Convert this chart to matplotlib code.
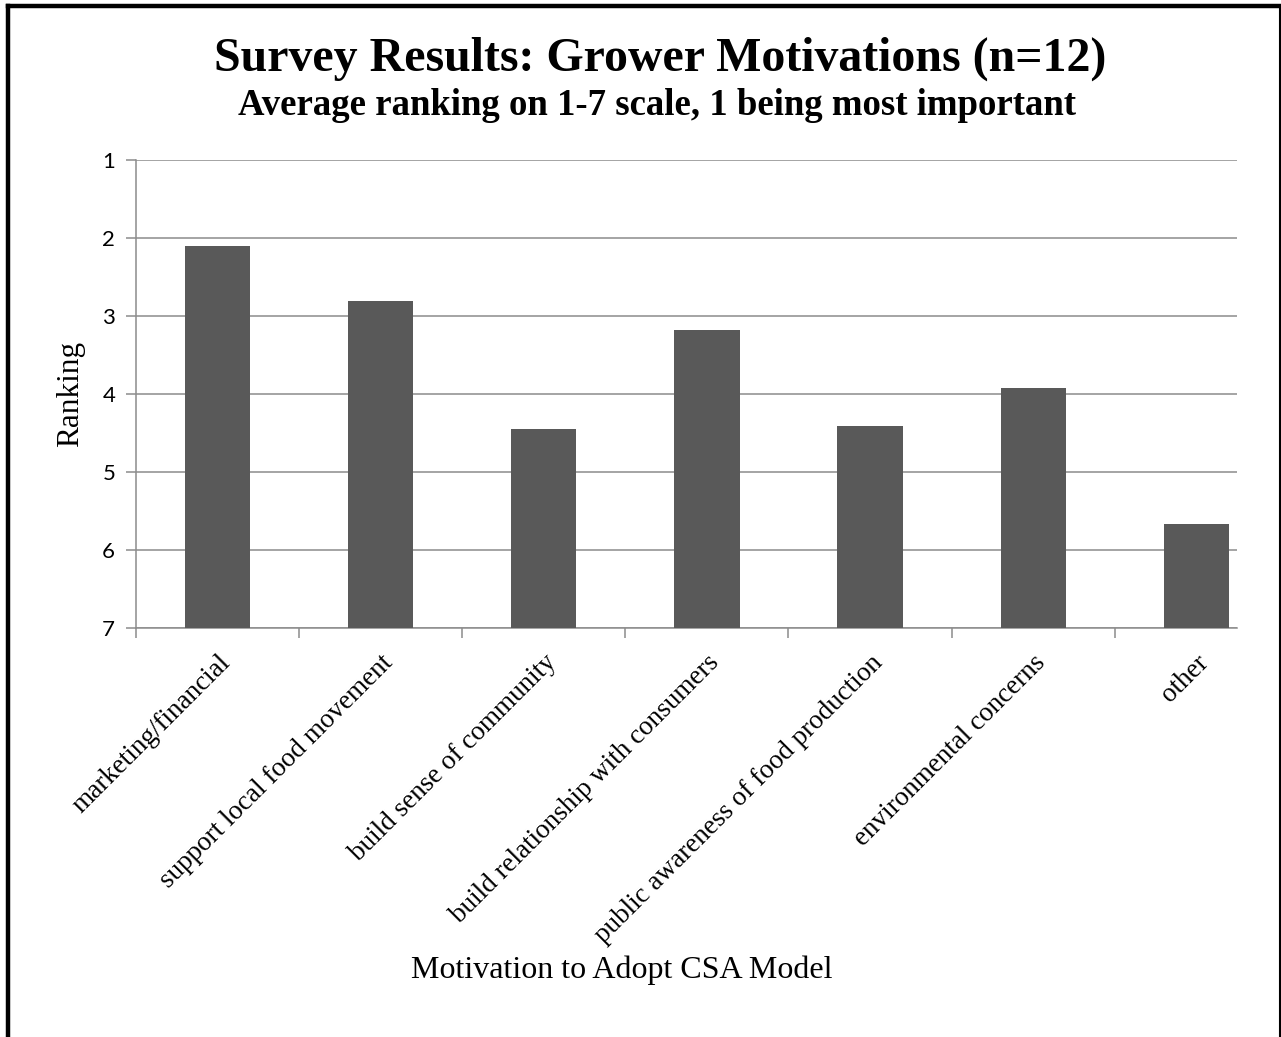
import numpy as np
import matplotlib
matplotlib.use('Agg')
import matplotlib.pyplot as plt
from matplotlib.lines import Line2D

# 各カテゴリと平均ランキング
motivations = ['marketing/financial', 'support local food movement',
               'build sense of community', 'build relationship with consumers',
               'public awareness of food production', 'environmental concerns',
               'other']
avg_rank = [2.10, 2.81, 4.45, 3.18, 4.41, 3.92, 5.67]
y_ticks = [1, 2, 3, 4, 5, 6, 7]

serif = 'Liberation Serif'
sans = 'Lato'
grey = '#8c8c8c'

fig = plt.figure(figsize=(12.81, 10.37), dpi=100)
ax = fig.add_axes([0.1062, 0.3944, 0.9657 - 0.1062, 0.8457 - 0.3944])

x = np.arange(len(motivations))
# 棒は7(下端)から値まで伸ばす
ax.bar(x, [7 - v for v in avg_rank], bottom=avg_rank, width=0.4,
       color='#595959', zorder=3)

ax.set_ylim(7, 1)
ax.set_xlim(-0.5, 6.25)
ax.set_yticks(y_ticks)
ax.set_yticklabels([str(t) for t in y_ticks], fontfamily=sans, fontsize=16)
ax.yaxis.grid(True, color=grey, linewidth=1.1, zorder=0)
ax.tick_params(axis='y', length=7, color=grey, width=1.1, pad=8)

ax.set_xticks(x)
ax.set_xticklabels(motivations, rotation=45, ha='right', rotation_mode='anchor',
                   fontfamily=serif, fontsize=19.5)
ax.tick_params(axis='x', which='major', length=0, pad=16)
ax.set_xticks(np.arange(-0.5, 6.0, 1.0), minor=True)
ax.tick_params(axis='x', which='minor', length=7, color=grey, width=1.1)

for s in ['top', 'right']:
    ax.spines[s].set_visible(False)
for s in ['left', 'bottom']:
    ax.spines[s].set_color(grey)
    ax.spines[s].set_linewidth(1.1)

ax.set_ylabel('Ranking', fontfamily=serif, fontsize=22.5, labelpad=12)

fig.text(0.515, 0.943, 'Survey Results: Grower Motivations (n=12)', ha='center',
         va='center', fontfamily=serif, fontweight='bold', fontsize=34.5)
fig.text(0.513, 0.898, 'Average ranking on 1-7 scale, 1 being most important',
         ha='center', va='center', fontfamily=serif, fontweight='bold', fontsize=26.5)
fig.text(0.485, 0.064, 'Motivation to Adopt CSA Model', ha='center', va='center',
         fontfamily=serif, fontsize=23)

# 外枠 (左・上・右)
fig.add_artist(Line2D([8 / 1281, 8 / 1281], [0, 1 - 6 / 1037], color='black', lw=3.2,
                      transform=fig.transFigure))
fig.add_artist(Line2D([8 / 1281, 1], [1 - 6 / 1037, 1 - 6 / 1037], color='black', lw=3.2,
                      transform=fig.transFigure))
fig.add_artist(Line2D([1279.5 / 1281, 1279.5 / 1281], [0, 1 - 6 / 1037], color='black',
                      lw=1.5, transform=fig.transFigure))

fig.savefig('out.png', dpi=100)
